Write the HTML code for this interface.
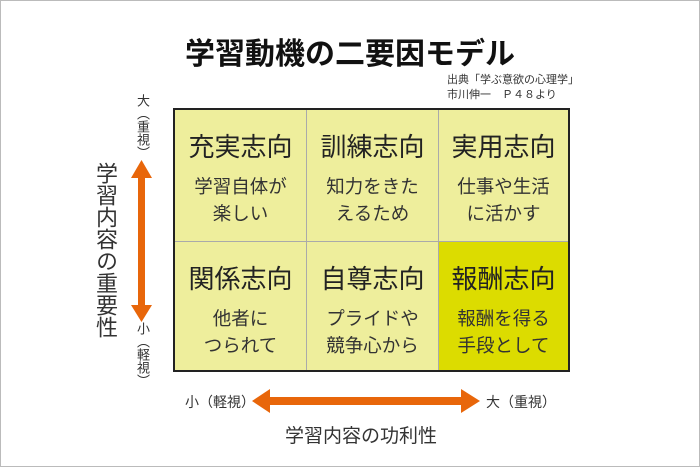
<!DOCTYPE html>
<html><head><meta charset="utf-8"><style>
body{margin:0;width:700px;height:467px;background:#fff;position:relative;overflow:hidden;font-family:"Liberation Sans","Noto Sans CJK JP",sans-serif;color:#222}
.frame{position:absolute;left:0;top:0;width:698px;height:465px;border:1px solid #bbb}
.t{position:absolute;white-space:nowrap}
.grid{position:absolute;left:173px;top:108px;width:393px;height:260px;border:2px solid #222;display:grid;grid-template-columns:131px 131px 129px;grid-template-rows:131px 128px;background:#aaa;gap:1px}
.c{background:#eeee9c;text-align:center}
.c.h{background:#dcdc00}
.c b{display:block;font-weight:normal;font-size:26px;margin-top:17px}
.c span{display:block;font-size:18.5px;line-height:27px;margin-top:9px;color:#333}
.v{position:absolute;writing-mode:vertical-rl;white-space:nowrap}
</style></head><body>
<div class="frame"></div>
<div class="t" style="left:0;width:700px;text-align:center;top:29px;font-size:30px;font-weight:bold;color:#111">学習動機の二要因モデル</div>
<div class="t" style="left:447px;top:73px;font-size:11px;line-height:15px;color:#333">出典「学ぶ意欲の心理学」<br>市川伸一　Ｐ４８より</div>
<div class="grid">
<div class="c"><b>充実志向</b><span>学習自体が<br>楽しい</span></div>
<div class="c"><b>訓練志向</b><span>知力をきた<br>えるため</span></div>
<div class="c"><b>実用志向</b><span>仕事や生活<br>に活かす</span></div>
<div class="c"><b>関係志向</b><span>他者に<br>つられて</span></div>
<div class="c"><b>自尊志向</b><span>プライドや<br>競争心から</span></div>
<div class="c h"><b>報酬志向</b><span>報酬を得る<br>手段として</span></div>
</div>
<div class="v" style="left:89px;top:162px;font-size:22px;color:#333">学習内容の重要性</div>
<div class="v" style="left:133px;top:94px;font-size:13px;color:#333">大（重視）</div>
<div class="v" style="left:133px;top:322px;font-size:13px;color:#333">小（軽視）</div>
<svg style="position:absolute;left:0;top:0" width="700" height="467">
<g fill="#e8660a">
<rect x="138" y="176" width="7" height="130"/>
<polygon points="131,178 152,178 141.5,160"/>
<polygon points="131,305 152,305 141.5,322"/>
<rect x="268" y="397" width="195" height="8"/>
<polygon points="270,389 270,413 252,401"/>
<polygon points="461,389 461,413 480,401"/>
</g></svg>
<div class="t" style="left:185px;top:392px;font-size:14px;color:#333">小（軽視）</div>
<div class="t" style="left:486px;top:392px;font-size:14px;color:#333">大（重視）</div>
<div class="t" style="left:285px;top:421px;font-size:19px;color:#333">学習内容の功利性</div>
</body></html>
